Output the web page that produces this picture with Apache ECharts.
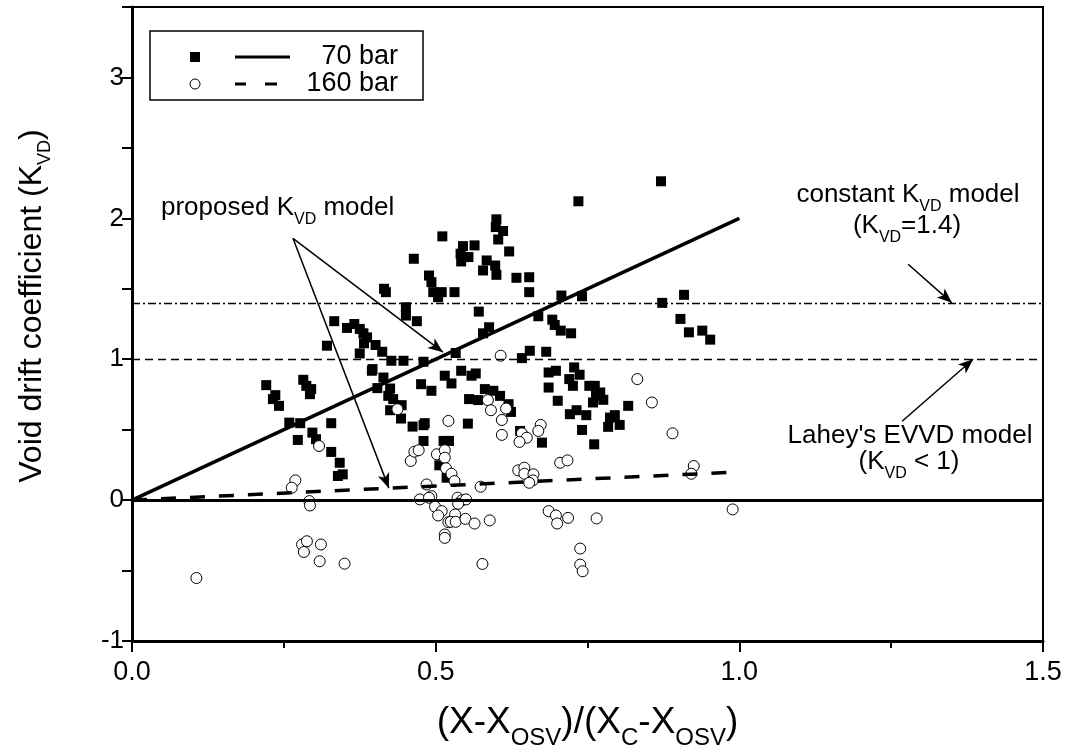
<!DOCTYPE html>
<html>
<head>
<meta charset="utf-8">
<script src="https://cdn.jsdelivr.net/npm/echarts@6/dist/echarts.min.js"></script>
<style>
html, body { margin: 0; padding: 0; background: #fff; }
#main { width: 1070px; height: 754px; }
</style>
</head>
<body>
<div id="main"></div>
<script>
// 70 bar data (filled squares)
var bar70 = [
  [0.511, 1.872], [0.464, 1.713], [0.489, 1.594], [0.493, 1.547], [0.496, 1.476], [0.510, 1.476],
  [0.504, 1.440], [0.415, 1.500], [0.418, 1.476], [0.451, 1.369], [0.451, 1.310], [0.469, 1.270],
  [0.333, 1.270], [0.366, 1.250], [0.375, 1.215], [0.381, 1.184], [0.387, 1.155], [0.382, 1.113],
  [0.354, 1.222], [0.321, 1.096], [0.401, 1.101], [0.412, 1.053], [0.375, 1.041], [0.427, 0.989],
  [0.447, 0.989], [0.480, 0.982], [0.396, 0.930],
  [0.871, 2.263], [0.735, 2.121], [0.600, 1.993], [0.599, 1.938], [0.611, 1.910], [0.603, 1.850],
  [0.545, 1.803], [0.564, 1.808], [0.541, 1.749], [0.554, 1.725], [0.542, 1.694], [0.621, 1.765],
  [0.584, 1.701], [0.598, 1.665], [0.578, 1.630], [0.600, 1.599], [0.633, 1.578], [0.654, 1.582],
  [0.654, 1.476], [0.531, 1.476], [0.707, 1.452], [0.741, 1.447], [0.873, 1.400], [0.909, 1.457],
  [0.571, 1.338], [0.669, 1.305], [0.692, 1.281], [0.696, 1.243], [0.706, 1.203], [0.723, 1.184],
  [0.903, 1.286], [0.917, 1.191], [0.939, 1.203], [0.952, 1.139], [0.578, 1.184], [0.588, 1.227],
  [0.533, 1.044], [0.655, 1.060], [0.682, 1.053], [0.642, 1.008],
  [0.221, 0.816], [0.236, 0.745], [0.232, 0.717], [0.242, 0.669], [0.282, 0.854], [0.287, 0.811],
  [0.295, 0.788], [0.293, 0.752], [0.259, 0.550], [0.277, 0.546], [0.273, 0.427], [0.297, 0.479],
  [0.303, 0.432], [0.328, 0.546], [0.328, 0.342], [0.342, 0.265], [0.339, 0.171], [0.347, 0.183],
  [0.395, 0.918], [0.414, 0.870], [0.404, 0.795], [0.425, 0.792], [0.422, 0.740], [0.430, 0.717],
  [0.444, 0.674], [0.425, 0.638], [0.443, 0.579], [0.462, 0.522], [0.480, 0.532], [0.482, 0.546],
  [0.480, 0.420], [0.476, 0.823], [0.493, 0.776], [0.515, 0.883], [0.513, 0.420], [0.506, 0.247],
  [0.518, 0.159],
  [0.526, 0.828], [0.542, 0.918], [0.559, 0.883], [0.566, 0.899], [0.581, 0.788], [0.595, 0.776],
  [0.606, 0.740], [0.620, 0.681], [0.624, 0.626], [0.555, 0.717], [0.570, 0.710], [0.553, 0.543],
  [0.639, 0.491], [0.675, 0.408], [0.522, 0.420], [0.686, 0.906], [0.698, 0.918], [0.686, 0.799],
  [0.701, 0.705], [0.728, 0.942], [0.737, 0.890], [0.720, 0.859], [0.726, 0.811], [0.753, 0.811],
  [0.762, 0.811], [0.771, 0.764], [0.764, 0.740], [0.776, 0.712], [0.759, 0.693], [0.732, 0.638],
  [0.748, 0.603], [0.721, 0.610], [0.741, 0.498], [0.761, 0.396], [0.787, 0.586], [0.795, 0.603],
  [0.784, 0.520], [0.803, 0.534], [0.817, 0.669]
];

// 160 bar data (open circles)
var bar160 = [
  [0.607, 1.025],
  [0.437, 0.645], [0.308, 0.384], [0.269, 0.140], [0.263, 0.088], [0.292, -0.007], [0.293, -0.038],
  [0.280, -0.315], [0.288, -0.292], [0.283, -0.368], [0.311, -0.315], [0.309, -0.434], [0.350, -0.451],
  [0.106, -0.553], [0.459, 0.278], [0.465, 0.344], [0.472, 0.354], [0.485, 0.111], [0.474, 0.005],
  [0.493, 0.028], [0.489, 0.017], [0.499, -0.047], [0.510, -0.078], [0.504, -0.109], [0.521, 0.562],
  [0.502, 0.325], [0.515, 0.354], [0.515, 0.301], [0.517, 0.226], [0.521, -0.157], [0.515, -0.244],
  [0.515, -0.268],
  [0.832, 0.859], [0.856, 0.693], [0.890, 0.474], [0.925, 0.242], [0.921, 0.187], [0.989, -0.066],
  [0.586, 0.710], [0.591, 0.638], [0.616, 0.650], [0.609, 0.569], [0.609, 0.463], [0.642, 0.474],
  [0.650, 0.443], [0.638, 0.413], [0.673, 0.534], [0.669, 0.491], [0.705, 0.265], [0.717, 0.282],
  [0.636, 0.211], [0.646, 0.230], [0.646, 0.187], [0.661, 0.183], [0.660, 0.140], [0.654, 0.123],
  [0.574, 0.095], [0.526, 0.187], [0.531, 0.135], [0.536, 0.017], [0.543, -0.002], [0.550, 0.005],
  [0.537, -0.026], [0.532, -0.102], [0.525, -0.154], [0.533, -0.154], [0.549, -0.133], [0.564, -0.166],
  [0.589, -0.144], [0.577, -0.453], [0.686, -0.078], [0.698, -0.109], [0.700, -0.166], [0.718, -0.126],
  [0.765, -0.130], [0.738, -0.344], [0.738, -0.458], [0.742, -0.505]
];

// model lines
var line70 = [[0, 0], [1.0, 2.0]];
var line160 = [[0, 0], [1.0, 0.2]];

// horizontal reference levels: zero line, Lahey (K=1), constant (K=1.4)
var refLevels = [0, 1.0, 1.4];

// annotation arrows [from, to] in data units
var arrows = [
  [[0.265, 1.858], [0.512, 1.050]],
  [[0.265, 1.858], [0.423, 0.085]],
  [[1.278, 1.674], [1.350, 1.400]],
  [[1.268, 0.560], [1.385, 1.000]]
];

var FONT = 'Liberation Sans, Arial, sans-serif';

var refStyles = [
  { color: '#000', width: 3, type: 'solid' },
  { color: '#000', width: 1.3, type: [8, 5] },
  { color: '#000', width: 1.3, type: [8, 3, 2, 3] }
];

function annoRich(size, subSize) {
  return {
    n: { fontSize: size, fontFamily: FONT, color: '#000', lineHeight: 40, verticalAlign: 'middle' },
    s: { fontSize: subSize, fontFamily: FONT, color: '#000', lineHeight: 17, verticalAlign: 'bottom' }
  };
}

function annoText(x, y, text, align) {
  return {
    type: 'text', x: x, y: y, z: 10,
    style: {
      text: text, align: align, verticalAlign: 'middle',
      fontFamily: FONT, fontSize: 26, fill: '#000',
      rich: annoRich(26, 16)
    }
  };
}

var myChart = echarts.init(document.getElementById('main'));

var option = {
  animation: false,
  backgroundColor: '#fff',
  grid: {
    left: 132, right: 27, top: 7, bottom: 113,
    outerBoundsMode: 'none',
    show: true, borderColor: '#000', borderWidth: 2, backgroundColor: 'transparent'
  },
  xAxis: {
    type: 'value', min: 0, max: 1.5, interval: 0.5,
    axisLine: { onZero: false, lineStyle: { color: '#000', width: 3 } },
    axisTick: { inside: false, length: 11, lineStyle: { color: '#000', width: 2 } },
    minorTick: { show: true, splitNumber: 2, length: 7, lineStyle: { color: '#000', width: 2 } },
    splitLine: { show: false },
    axisLabel: {
      color: '#000', fontSize: 27, fontFamily: FONT, margin: 18,
      formatter: function (v) { return v.toFixed(1); }
    },
    name: '{n|(X-X}{s|OSV}{n|)/(X}{s|C}{n|-X}{s|OSV}{n|)}',
    nameLocation: 'middle', nameGap: 55,
    nameTextStyle: {
      rich: {
        n: { fontSize: 37, fontFamily: FONT, color: '#000', lineHeight: 54, verticalAlign: 'middle' },
        s: { fontSize: 24, fontFamily: FONT, color: '#000', lineHeight: 24, verticalAlign: 'bottom' }
      }
    }
  },
  yAxis: {
    type: 'value', min: -1, max: 3.5, interval: 1,
    axisLine: { onZero: false, lineStyle: { color: '#000', width: 3 } },
    axisTick: { inside: false, length: 10, lineStyle: { color: '#000', width: 2 } },
    minorTick: { show: true, splitNumber: 2, length: 10, lineStyle: { color: '#000', width: 2 } },
    splitLine: { show: false },
    axisLabel: { color: '#000', fontSize: 26, fontFamily: FONT, margin: 8, showMaxLabel: false },
    name: '{n|Void drift coefficient (K}{s|VD}{n|)}',
    nameLocation: 'middle', nameGap: 78, nameRotate: 90,
    nameTextStyle: {
      padding: [0, 0, 0, 36],
      rich: {
        n: { fontSize: 32, fontFamily: FONT, color: '#000', lineHeight: 44, verticalAlign: 'middle' },
        s: { fontSize: 18, fontFamily: FONT, color: '#000', lineHeight: 20, verticalAlign: 'bottom' }
      }
    }
  },
  series: [
    {
      name: '70 bar', type: 'scatter', data: bar70,
      symbol: 'rect', symbolSize: 10,
      itemStyle: { color: '#000', opacity: 1 },
      markLine: {
        silent: true, symbol: 'none', label: { show: false },
        data: refLevels.map(function (v, i) {
          return { yAxis: v, lineStyle: refStyles[i] };
        })
      }
    },
    {
      name: '160 bar', type: 'scatter', data: bar160,
      symbol: 'circle', symbolSize: 11,
      itemStyle: { color: '#fff', borderColor: '#000', borderWidth: 1, opacity: 1 }
    },
    {
      name: '70 bar model', type: 'line', data: line70,
      showSymbol: false, symbol: 'none',
      lineStyle: { color: '#000', width: 3.5 },
      markLine: {
        silent: true, symbol: ['none', 'arrow'], symbolSize: [9, 15],
        label: { show: false },
        lineStyle: { color: '#000', width: 1.5, type: 'solid' },
        data: arrows.map(function (a) {
          return [{ coord: a[0] }, { coord: a[1] }];
        })
      }
    },
    {
      name: '160 bar model', type: 'line', data: line160,
      showSymbol: false, symbol: 'none',
      lineStyle: { color: '#000', width: 3.5, type: [15, 14] }
    }
  ],
  graphic: [
    // legend box
    { type: 'rect', z: 5, shape: { x: 150, y: 31, width: 273, height: 69 },
      style: { fill: '#fff', stroke: '#000', lineWidth: 1.5 } },
    { type: 'rect', z: 6, shape: { x: 190, y: 52, width: 10, height: 10 }, style: { fill: '#000' } },
    { type: 'line', z: 6, shape: { x1: 235, y1: 57, x2: 290, y2: 57 }, style: { stroke: '#000', lineWidth: 3 } },
    { type: 'text', z: 6, x: 398, y: 57,
      style: { text: '70 bar', align: 'right', verticalAlign: 'middle', fontSize: 27, fontFamily: FONT, fill: '#000' } },
    { type: 'circle', z: 6, shape: { cx: 195, cy: 84, r: 5 }, style: { fill: '#fff', stroke: '#000', lineWidth: 1 } },
    { type: 'line', z: 6, shape: { x1: 235, y1: 84, x2: 246, y2: 84 }, style: { stroke: '#000', lineWidth: 3 } },
    { type: 'line', z: 6, shape: { x1: 265, y1: 84, x2: 277, y2: 84 }, style: { stroke: '#000', lineWidth: 3 } },
    { type: 'text', z: 6, x: 398, y: 84,
      style: { text: '160 bar', align: 'right', verticalAlign: 'middle', fontSize: 27, fontFamily: FONT, fill: '#000' } },
    // annotations
    annoText(161, 208, '{n|proposed K}{s|VD}{n| model}', 'left'),
    annoText(908, 195, '{n|constant K}{s|VD}{n| model}', 'center'),
    annoText(907, 226, '{n|(K}{s|VD}{n|=1.4)}', 'center'),
    annoText(910, 436, "{n|Lahey's EVVD model}", 'center'),
    annoText(909, 462, '{n|(K}{s|VD}{n| < 1)}', 'center')
  ]
};

myChart.setOption(option);
window.onresize = myChart.resize;
</script>
</body>
</html>
